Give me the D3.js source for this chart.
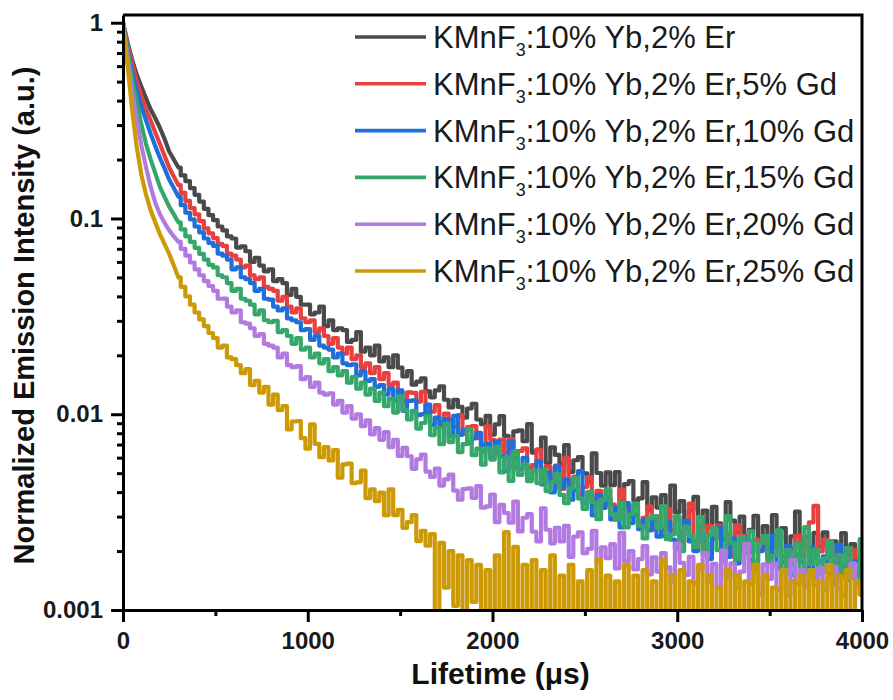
<!DOCTYPE html>
<html><head><meta charset="utf-8">
<script src="https://cdn.jsdelivr.net/npm/d3@7/dist/d3.min.js"></script>
<style>body{margin:0;background:#fff;} svg{display:block;}</style>
</head><body>
<svg id="chart" width="893" height="700"></svg>
<script>
// ---- data ----
const timeStart = 0, timeStep = 25, timeEnd = 4000; // µs sampling of the decay traces

const black = [1,0.79,0.645,0.54,0.47,0.41,0.36,0.325,0.29,0.255,
0.22,0.2,0.182,0.166,0.155,0.143,0.132,0.122,0.112,0.104,
0.098,0.091,0.087,0.081,0.079,0.071,0.072,0.068,0.06,0.063,
0.0575,0.0537,0.055,0.0479,0.049,0.0468,0.0407,0.0437,0.0398,0.0363,
0.0363,0.0324,0.0331,0.0355,0.0282,0.0302,0.0269,0.0275,0.0269,0.0234,
0.024,0.0263,0.0209,0.0219,0.02,0.0224,0.0186,0.0195,0.0174,0.02,
0.0173,0.0156,0.0166,0.01416,0.01466,0.01524,0.0131,0.0122,0.01324,0.0139,
0.01186,0.01084,0.01186,0.0109,0.0096,0.0107,0.0113,0.0094,0.0089,0.0098,
0.00787,0.00887,0.00977,0.00775,0.0068,0.00817,0.00828,0.00728,0.0089,0.00637,
0.00659,0.00759,0.00565,0.00678,0.0062,0.00556,0.00695,0.00507,0.00582,0.00604,
0.00499,0.00448,0.00632,0.00501,0.00432,0.00505,0.00434,0.00507,0.00361,0.0044,
0.00456,0.0036,0.00372,0.0045,0.00324,0.00376,0.00333,0.00386,0.00296,0.00432,
0.00315,0.0036,0.00282,0.00322,0.00378,0.00261,0.00322,0.00265,0.00336,0.00277,
0.00229,0.00356,0.00286,0.00249,0.003,0.00224,0.00257,0.00303,0.00221,0.00268,
0.00206,0.00305,0.00228,0.00262,0.00201,0.00238,0.00318,0.00205,0.00236,0.00181,
0.00248,0.00211,0.00249,0.00186,0.00224,0.00171,0.00247,0.00189,0.00217,0.00179,
0.00206];

const red = [1,0.78,0.62,0.5,0.42,0.36,0.316,0.275,0.24,0.209,
0.182,0.164,0.148,0.135,0.123,0.113,0.105,0.097,0.089,0.084,
0.0794,0.0741,0.0724,0.0661,0.0646,0.0617,0.0562,0.0575,0.0513,0.049,
0.0501,0.0447,0.0437,0.0427,0.038,0.0398,0.0355,0.0331,0.0347,0.0309,
0.0295,0.0302,0.0263,0.0275,0.0251,0.0229,0.0245,0.0219,0.0204,0.0219,
0.0191,0.02,0.0174,0.0182,0.0162,0.0174,0.0151,0.0162,0.0141,0.0145,
0.01294,0.01167,0.01294,0.01285,0.01159,0.01303,0.01023,0.0103,0.01112,0.00902,
0.01007,0.00938,0.00863,0.00989,0.00793,0.00859,0.00871,0.00757,0.00697,0.00867,
0.0074,0.00634,0.00743,0.00637,0.00746,0.00531,0.00649,0.0067,0.0053,0.0055,
0.00658,0.0047,0.00541,0.00475,0.00546,0.00415,0.006,0.00436,0.0048,0.00386,
0.00426,0.00478,0.00348,0.00406,0.00342,0.0041,0.00345,0.00291,0.00412,0.0034,
0.00299,0.00344,0.00267,0.00296,0.00337,0.00258,0.003,0.00239,0.00328,0.00256,
0.00291,0.00223,0.00262,0.0035,0.00224,0.00258,0.00197,0.0027,0.00229,0.0027,
0.00202,0.00244,0.00188,0.00271,0.00208,0.00239,0.00198,0.00229,0.002,0.00237,
0.00187,0.0021,0.00236,0.00187,0.00171,0.00207,0.00239,0.00188,0.00211,0.0028,
0.0034,0.00199,0.00229,0.00171,0.00161,0.002,0.00149,0.00176,0.00203,0.00156,
0.00135];

const blue = [1,0.74,0.56,0.45,0.37,0.316,0.27,0.234,0.204,0.18,
0.158,0.143,0.129,0.117,0.107,0.099,0.091,0.085,0.079,0.075,
0.0724,0.0661,0.0646,0.0617,0.055,0.0562,0.0501,0.049,0.0468,0.0427,
0.0437,0.0389,0.0385,0.0355,0.0339,0.0347,0.0309,0.0302,0.0295,0.0269,
0.0272,0.024,0.0251,0.0224,0.0219,0.0214,0.0195,0.0204,0.0182,0.0178,
0.018,0.0158,0.0166,0.0148,0.0151,0.0138,0.0141,0.0126,0.0135,0.0117,
0.01324,0.0104,0.0117,0.01178,0.0099,0.01002,0.0112,0.00883,0.0096,0.00869,
0.00944,0.00776,0.00982,0.00785,0.0083,0.00711,0.00752,0.00804,0.00644,0.00708,
0.00608,0.00726,0.00611,0.00513,0.00724,0.00596,0.00522,0.00598,0.00463,0.00512,
0.00575,0.00438,0.00504,0.00399,0.00541,0.0042,0.00463,0.00366,0.00411,0.00512,
0.0035,0.00385,0.00304,0.00386,0.00332,0.00374,0.0029,0.00333,0.00264,0.00352,
0.00278,0.00307,0.00259,0.00288,0.00255,0.0029,0.00237,0.00258,0.00281,0.00229,
0.00206,0.00249,0.00285,0.00224,0.002,0.00247,0.0022,0.00182,0.00231,0.00265,
0.00199,0.00187,0.00232,0.00173,0.00205,0.00236,0.00181,0.00158,0.00201,0.0021,
0.00184,0.0024,0.00163,0.00175,0.00212,0.00151,0.00192,0.00176,0.00157,0.0021,
0.00146,0.00177,0.00188,0.00153,0.00137,0.00215,0.00166,0.00142,0.00177,0.00151,
0.00189];

const green = [1,0.71,0.51,0.39,0.3,0.24,0.2,0.17,0.145,0.129,
0.115,0.105,0.0955,0.088,0.081,0.076,0.0708,0.066,0.0617,0.058,
0.0562,0.0513,0.0501,0.0468,0.0427,0.0437,0.0389,0.038,0.0363,0.0324,
0.0339,0.0302,0.0295,0.03,0.0263,0.0269,0.0251,0.0229,0.0245,0.0214,
0.0219,0.0195,0.0204,0.0182,0.0191,0.0166,0.0174,0.0158,0.0166,0.0145,
0.0155,0.0135,0.0145,0.0126,0.0135,0.0117,0.0129,0.011,0.012,0.0102,
0.01236,0.0105,0.0094,0.01042,0.00845,0.00902,0.00982,0.00783,0.00855,0.00703,
0.00891,0.00721,0.00774,0.00641,0.00703,0.00839,0.00618,0.00667,0.00552,0.0067,
0.00587,0.00682,0.00505,0.006,0.00456,0.00646,0.0049,0.00555,0.00455,0.00515,
0.00445,0.00518,0.00405,0.00448,0.00495,0.00387,0.00351,0.00419,0.00474,0.00371,
0.00328,0.00401,0.00355,0.00291,0.00365,0.00415,0.00309,0.00289,0.00354,0.00264,
0.00308,0.00351,0.00268,0.00232,0.00293,0.00302,0.00262,0.00339,0.0023,0.00243,
0.00301,0.002,0.00267,0.0024,0.0021,0.00299,0.00192,0.00241,0.00261,0.00202,
0.00177,0.00302,0.0022,0.00182,0.00236,0.00195,0.00252,0.00158,0.0022,0.00239,
0.00175,0.0019,0.00255,0.0016,0.00202,0.00172,0.00218,0.0015,0.00265,0.00172,
0.00204,0.00154,0.00183,0.00225,0.00147,0.00191,0.00154,0.00207,0.00167,0.00134,
0.0023];

const purple = [1,0.65,0.44,0.32,0.235,0.182,0.145,0.12,0.105,0.095,
0.087,0.081,0.0759,0.07,0.0646,0.0596,0.055,0.0513,0.0479,0.0452,
0.0427,0.0389,0.039,0.0355,0.0331,0.0339,0.0295,0.029,0.0275,0.0251,
0.0257,0.0229,0.0224,0.0219,0.0195,0.0204,0.0178,0.0174,0.0176,0.0151,
0.0155,0.0138,0.0145,0.0129,0.0126,0.0128,0.0112,0.0117,0.0102,0.011,
0.0095,0.01,0.0087,0.0093,0.0079,0.0085,0.0074,0.0081,0.0068,0.0074,
0.00612,0.00673,0.0061,0.00526,0.00589,0.00622,0.00509,0.00478,0.00528,0.00432,
0.00465,0.00491,0.00407,0.00366,0.00415,0.00418,0.00374,0.0043,0.00333,0.00338,
0.00389,0.00281,0.00344,0.00313,0.00279,0.00358,0.00252,0.00296,0.00309,0.00251,
0.00224,0.00331,0.00257,0.00219,0.00263,0.00224,0.00269,0.00187,0.00237,0.00249,
0.00195,0.00205,0.00254,0.00177,0.00209,0.00184,0.00217,0.00163,0.00248,0.00177,
0.002,0.00161,0.00182,0.00212,0.00152,0.00186,0.00157,0.00195,0.00165,0.00139,
0.00219,0.00174,0.00151,0.00187,0.00137,0.00161,0.00195,0.00139,0.00172,0.0013,
0.00201,0.00147,0.00173,0.0013,0.00157,0.00218,0.00136,0.00159,0.0012,0.00171,
0.00144,0.00173,0.00127,0.00158,0.00119,0.0018,0.00136,0.0016,0.00132,0.00155,
0.00134,0.00163,0.00126,0.00145,0.00166,0.00129,0.00118,0.00147,0.00173,0.00135,
0.0012];

const yellow = [1,0.6,0.355,0.23,0.166,0.132,0.11,0.0955,0.0832,0.074,
0.066,0.0575,0.05,0.0447,0.04,0.0363,0.0331,0.0305,0.0282,0.026,
0.0245,0.0219,0.0224,0.0195,0.0191,0.0178,0.0162,0.017,0.0141,0.0148,
0.0129,0.0138,0.0112,0.0126,0.0105,0.011,0.00836,0.00918,0.00923,0.00755,
0.00667,0.00887,0.00705,0.00603,0.00679,0.00581,0.00655,0.00474,0.00555,0.0056,
0.00445,0.00449,0.00515,0.00373,0.00413,0.0036,0.00398,0.00305,0.00413,0.00305,
0.00325,0.00263,0.00281,0.00305,0.00225,0.00254,0.00213,0.00244,0.0009,0.0022,
0.0013,0.002,0.00105,0.0019,0.0008,0.0018,0.0011,0.0017,0.0007,0.0016,
0.0009,0.0019,0.0008,0.0025,0.0009,0.0021,0.0007,0.0017,0.0009,0.0018,
0.0008,0.0016,0.0009,0.0019,0.0007,0.0015,0.0009,0.0017,0.0008,0.0014,
0.0007,0.0016,0.0009,0.0018,0.0008,0.0015,0.0009,0.0014,0.0007,0.0017,
0.0009,0.0015,0.0006,0.0016,0.0009,0.0014,0.0008,0.0018,0.0009,0.0015,
0.0007,0.0016,0.0008,0.0014,0.0009,0.0017,0.0007,0.0015,0.0009,0.0013,
0.0006,0.0016,0.0009,0.0015,0.0008,0.0014,0.0009,0.0017,0.0007,0.0015,
0.0008,0.0013,0.0009,0.0016,0.0007,0.0014,0.0009,0.0015,0.0006,0.0016,
0.0009,0.0014,0.0008,0.0017,0.0009,0.0015,0.0007,0.0016,0.0008,0.0014,
0.0012];

const labelHost = "KMnF";
const labelSub = "3";
const labelDopants = [":10% Yb,2% Er", ":10% Yb,2% Er,5% Gd", ":10% Yb,2% Er,10% Gd",
  ":10% Yb,2% Er,15% Gd", ":10% Yb,2% Er,20% Gd", ":10% Yb,2% Er,25% Gd"];
const seriesValues = [black, red, blue, green, purple, yellow];
const seriesColors = ["#4a4a4a", "#e8403f", "#1f6fdb", "#36a76b", "#b27ae0", "#cc9a06"];

const yMajorTicks = [1, 0.1, 0.01, 0.001];
const yTickLabels = ["1", "0.1", "0.01", "0.001"];
const xMajorTicks = [0, 1000, 2000, 3000, 4000];
const xMinorTicks = [500, 1500, 2500, 3500];
const xTitle = "Lifetime (\u03bcs)";
const yTitle = "Normalized Emission Intensity (a.u.)";

// ---- drawing ----
const times = d3.range(timeStart, timeEnd + timeStep / 2, timeStep);
const L = 123, R = 862, T = 15, B = 610;
const x = d3.scaleLinear().domain([0, 4000]).range([L, R]);
const y = d3.scaleLog().domain([0.001, 1.095]).range([B, T]);
const svg = d3.select("#chart");
const FONT = "'Liberation Sans', Arial, Helvetica, sans-serif";

svg.append("defs").append("clipPath").attr("id", "plotclip")
  .append("rect").attr("x", L).attr("y", T).attr("width", R - L).attr("height", B - T);

// smooth early decay drawn point-to-point, dense noisy tail drawn as sample steps
const splitIndex = 12;
const lineLin = d3.line().x(d => x(d.t)).y(d => y(d.v)).curve(d3.curveLinear);
const lineStep = d3.line().x(d => x(d.t)).y(d => y(d.v)).curve(d3.curveStep);
const gLines = svg.append("g").attr("clip-path", "url(#plotclip)");
seriesValues.forEach((vals, k) => {
  const pts = vals.map((v, i) => ({ t: times[i], v }));
  const d = lineLin(pts.slice(0, splitIndex + 1)) + lineStep(pts.slice(splitIndex)).replace(/^M/, "L");
  gLines.append("path").attr("d", d).attr("fill", "none")
    .attr("stroke", seriesColors[k]).attr("stroke-width", 4.2).attr("stroke-linejoin", "round");
});

// minor y ticks
const yMinor = [];
[0.001, 0.01, 0.1].forEach(dec => { for (let m = 2; m <= 9; m++) yMinor.push(dec * m); });

function styleAxis(g) {
  g.selectAll("path.domain").attr("stroke", "#000").attr("stroke-width", 3);
  g.selectAll(".tick line").attr("stroke", "#000").attr("stroke-width", 3);
  g.selectAll("text").attr("font-family", FONT).attr("font-weight", "bold")
    .attr("font-size", 24).attr("fill", "#1a1a1a");
}

svg.append("g").attr("transform", `translate(${L},0)`)
  .call(d3.axisLeft(y).tickValues(yMinor).tickSize(6).tickFormat("").tickSizeOuter(0))
  .call(styleAxis).select("path.domain").remove();
svg.append("g").attr("transform", `translate(${L},0)`)
  .call(d3.axisLeft(y).tickValues(yMajorTicks).tickSize(12).tickPadding(8)
    .tickFormat((d, i) => yTickLabels[i]).tickSizeOuter(0))
  .call(styleAxis);

svg.append("g").attr("transform", `translate(0,${B})`)
  .call(d3.axisBottom(x).tickValues(xMinorTicks).tickSize(6).tickFormat("").tickSizeOuter(0))
  .call(styleAxis).select("path.domain").remove();
svg.append("g").attr("transform", `translate(0,${B})`)
  .call(d3.axisBottom(x).tickValues(xMajorTicks).tickSize(12).tickPadding(10)
    .tickFormat(d3.format("d")).tickSizeOuter(0))
  .call(styleAxis);

// frame (top and right)
svg.append("path").attr("d", `M${L},${T}H${R}V${B}`).attr("fill", "none")
  .attr("stroke", "#000").attr("stroke-width", 3);

// axis titles
svg.append("text").attr("x", (L + R) / 2 + 8).attr("y", 684).attr("text-anchor", "middle")
  .attr("font-family", FONT).attr("font-weight", "bold").attr("font-size", 30).attr("fill", "#111")
  .text(xTitle);
svg.append("text").attr("transform", `translate(34,${(T + B) / 2 + 3}) rotate(-90)`)
  .attr("text-anchor", "middle").attr("font-family", FONT).attr("font-weight", "bold")
  .attr("font-size", 29).attr("fill", "#111").text(yTitle);

// legend
const legend = svg.append("g");
labelDopants.forEach((lab, k) => {
  const cy = 37 + k * 46.8;
  legend.append("line").attr("x1", 355).attr("x2", 426).attr("y1", cy).attr("y2", cy)
    .attr("stroke", seriesColors[k]).attr("stroke-width", 3.6);
  const t = legend.append("text").attr("x", 433).attr("y", cy + 11)
    .attr("font-family", FONT).attr("font-size", 31).attr("fill", "#1a1a1a");
  t.append("tspan").text(labelHost);
  t.append("tspan").attr("font-size", 18).attr("dy", 8).text(labelSub);
  t.append("tspan").attr("dy", -8).text(lab);
});
</script>
</body></html>
